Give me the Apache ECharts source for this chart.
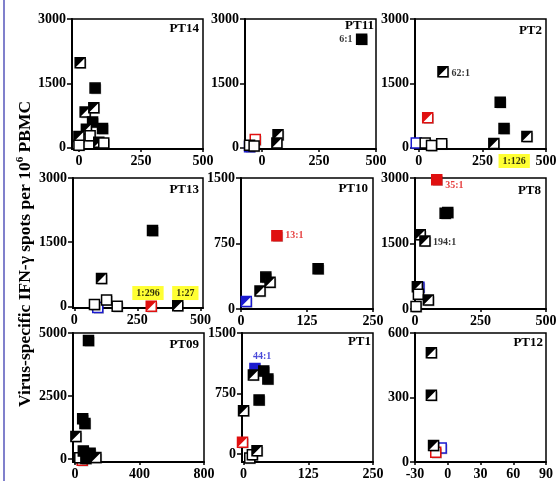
<!DOCTYPE html>
<html><head><meta charset="utf-8">
<script src="https://cdn.jsdelivr.net/npm/echarts@6/dist/echarts.min.js"></script>
<style>html,body{margin:0;padding:0;background:#fff}#c{width:560px;height:481px}</style>
</head><body><div id="c"></div><script>
const SERIF = '"Liberation Serif","Times New Roman",serif';
const RED = '#e01010', BLUE = '#1a1ad0';

// ---- data: [x, y, kind]  kind = colour (K black, R red, U blue) + fill (F full, H half, O open)
const PT14 = [[5,1980,'KH'],[65,1390,'KF'],[25,830,'KH'],[60,930,'KH'],[55,600,'KF'],[30,430,'KH'],[95,450,'KF'],[0,260,'KH'],[45,280,'KO'],[0,60,'KO'],[80,130,'KH'],[100,110,'KO']];
const PT11 = [[-55,25,'UO'],[-30,190,'RO'],[-55,60,'KO'],[-35,40,'KO'],[70,300,'KH'],[65,110,'KH'],[437,2530,'KF']];
const PT2  = [[-10,110,'UO'],[25,110,'KO'],[50,50,'KO'],[90,90,'KO'],[35,700,'RH'],[95,1770,'KH'],[320,1060,'KF'],[335,450,'KF'],[425,260,'KH'],[295,100,'KH']];
const PT13 = [[93,-30,'UO'],[80,40,'KO'],[128,150,'KO'],[170,0,'KO'],[108,650,'KH'],[310,1770,'KF'],[305,0,'RH'],[410,10,'KH']];
const PT10 = [[10,85,'UH'],[36,205,'KH'],[47,365,'KF'],[55,305,'KH'],[146,460,'KF'],[68,840,'RF']];
const PT8  = [[15,500,'UO'],[9,510,'KH'],[13,340,'KO'],[51,205,'KH'],[4,55,'KO'],[20,1700,'KH'],[38,1560,'KH'],[115,2190,'KF'],[125,2210,'KF'],[83,2960,'RF']];
const PT09 = [[45,-40,'RO'],[30,60,'KO'],[68,30,'KF'],[52,330,'KF'],[94,240,'KF'],[130,65,'KH'],[6,900,'KH'],[48,1600,'KF'],[62,1420,'KF'],[84,4700,'KF']];
const PT1  = [[12,-50,'KO'],[17,-10,'KO'],[26,40,'KH'],[-2,145,'RH'],[0,535,'KH'],[30,670,'KF'],[22,1060,'UF'],[19,980,'KH'],[39,1030,'KF'],[47,930,'KF']];
const PT12 = [[-6,65,'UO'],[-11,45,'RO'],[-13,77,'KH'],[-15,310,'KH'],[-15,508,'KH']];

const panelNames = ['PT14','PT11','PT2','PT13','PT10','PT8','PT09','PT1','PT12'];
const panelData  = [PT14,PT11,PT2,PT13,PT10,PT8,PT09,PT1,PT12];

// axis ranges and tick labels
const xMin = [-28,-75,-15,-5,0,0,-12,-3,-30];
const xMax = [500,500,500,510,250,500,800,250,90];
const xTicks = [[0,250,500],[0,250,500],[0,250,500],[0,250,500],[0,125,250],[0,250,500],[0,400,800],[0,125,250],[-30,0,30,60,90]];
const yMin = [-30,-30,-30,-40,0,0,-110,-100,0];
const yMax = [3000,3000,3000,3000,1500,3000,5000,1500,600];
const yTicks = [[0,1500,3000],[0,1500,3000],[0,1500,3000],[0,1500,3000],[0,750,1500],[0,1500,3000],[0,2500,5000],[0,750,1500],[0,300,600]];

// annotations
const notes = [
  {panel:'PT11', x:368, y:2530, text:'6:1',   kind:'plain'},
  {panel:'PT2',  x:165, y:1740, text:'62:1',  kind:'plain'},
  {panel:'PT2',  x:375, y:-310, text:'1:126', kind:'box'},
  {panel:'PT13', x:292, y:310,  text:'1:296', kind:'box'},
  {panel:'PT13', x:440, y:310,  text:'1:27',  kind:'box'},
  {panel:'PT10', x:101, y:840,  text:'13:1',  kind:'red'},
  {panel:'PT8',  x:150, y:2825, text:'35:1',  kind:'red'},
  {panel:'PT8',  x:113, y:1530, text:'194:1', kind:'plain'},
  {panel:'PT1',  x:36,  y:1210, text:'44:1',  kind:'blue'}
];

// layout (px): left, top, width, height
const layout = [
  [72,19,131,130],[245,19,131,130],[415,19,131,130],
  [73,178,130,130],[241,178,132,131],[415,178,131,131],
  [73,333,131,130],[242,333,131,130],[415,333,131,130]
];
// panel title offsets: [from right edge, from top edge]
const titleOff = [[4,3],[2,0],[4,5],[4,5],[5,4],[5,6],[5,5],[2,2],[3,3]];

const tickFont = {fontFamily:SERIF, fontWeight:'bold', fontSize:14, color:'#000'};

function makeRender(points){
  return function(params, api){
    const p = api.coord([api.value(0), api.value(1)]);
    const kind = points[params.dataIndex][2];
    const col = kind[0]==='R' ? RED : (kind[0]==='U' ? BLUE : '#000');
    const fill = kind[1];
    const s = 10, x0 = p[0]-s/2, y0 = p[1]-s/2;
    const children = [
      {type:'rect', shape:{x:x0+1.2,y:y0+1.2,width:s,height:s}, style:{fill:'rgba(0,0,0,0.3)'}},
      {type:'rect', shape:{x:x0,y:y0,width:s,height:s}, style:{fill: fill==='F'?col:'#fff', stroke:col, lineWidth:1.5}}
    ];
    if (fill==='H') children.push({type:'polygon', shape:{points:[[x0,y0],[x0+s,y0],[x0,y0+s]]}, style:{fill:col}});
    return {type:'group', children};
  };
}

const grids=[], xAxes=[], yAxes=[], series=[], titles=[];
panelNames.forEach((name,i)=>{
  const [l,t,w,h] = layout[i];
  grids.push({left:l, top:t, width:w, height:h, show:true, borderColor:'#000', borderWidth:1.5, containLabel:false});
  xAxes.push({type:'value', gridIndex:i, min:xMin[i], max:xMax[i],
    axisLine:{show:true, onZero:false, lineStyle:{color:'#000', width:2}},
    axisTick:{show:true, length:3, customValues:xTicks[i], lineStyle:{color:'#000', width:1.5}},
    axisLabel:Object.assign({customValues:xTicks[i], margin:5, formatter:v=>String(v)}, tickFont),
    splitLine:{show:false}});
  yAxes.push({type:'value', gridIndex:i, min:yMin[i], max:yMax[i],
    axisLine:{show:true, onZero:false, lineStyle:{color:'#000', width:2}},
    axisTick:{show:true, length:5, customValues:yTicks[i], lineStyle:{color:'#000', width:1.5}},
    axisLabel:Object.assign({customValues:yTicks[i], margin:6, formatter:v=>String(v)}, tickFont),
    splitLine:{show:false}});
  titles.push({text:name, right:560-(l+w)+titleOff[i][0], top:t+titleOff[i][1], padding:0,
    textStyle:{fontFamily:SERIF, fontWeight:'bold', fontSize:13, color:'#000'}});
  const pts = panelData[i];
  series.push({type:'custom', xAxisIndex:i, yAxisIndex:i, clip:false, silent:true,
    renderItem:makeRender(pts), encode:{x:0,y:1}, data:pts.map(p=>[p[0],p[1]]), z:3});
  const ns = notes.filter(n=>n.panel===name);
  if (ns.length) series.push({type:'scatter', xAxisIndex:i, yAxisIndex:i, symbolSize:0, clip:false, silent:true, z:5,
    data: ns.map(n=>({value:[n.x,n.y], label:{show:true, position:'inside', formatter:n.text,
      fontFamily:SERIF, fontWeight:'bold', fontSize:10,
      color: n.kind==='red'?RED:(n.kind==='blue'?BLUE:'#000'),
      backgroundColor: n.kind==='box'?'#ffff00':'transparent',
      padding: n.kind==='box'?[2,4]:0}}))});
});

const chart = echarts.init(document.getElementById('c'), null, {renderer:'canvas'});
chart.setOption({
  animation:false,
  backgroundColor:'#fff',
  title:titles, grid:grids, xAxis:xAxes, yAxis:yAxes, series:series,
  graphic:[
    {type:'rect', left:3, top:0, shape:{width:2, height:481}, style:{fill:'#8080cc'}},
    {type:'text', x:25, y:254, rotation:Math.PI/2,
      style:{text:'{a|Virus-specific IFN-\u03b3 spots per 10}{s|6}{a| PBMC}', textAlign:'center', textVerticalAlign:'middle',
        rich:{a:{fontFamily:SERIF, fontWeight:'bold', fontSize:17.5, fill:'#000', lineHeight:20},
              s:{fontFamily:SERIF, fontWeight:'bold', fontSize:11, fill:'#000', verticalAlign:'top', lineHeight:20}}}}
  ]
});
</script></body></html>
